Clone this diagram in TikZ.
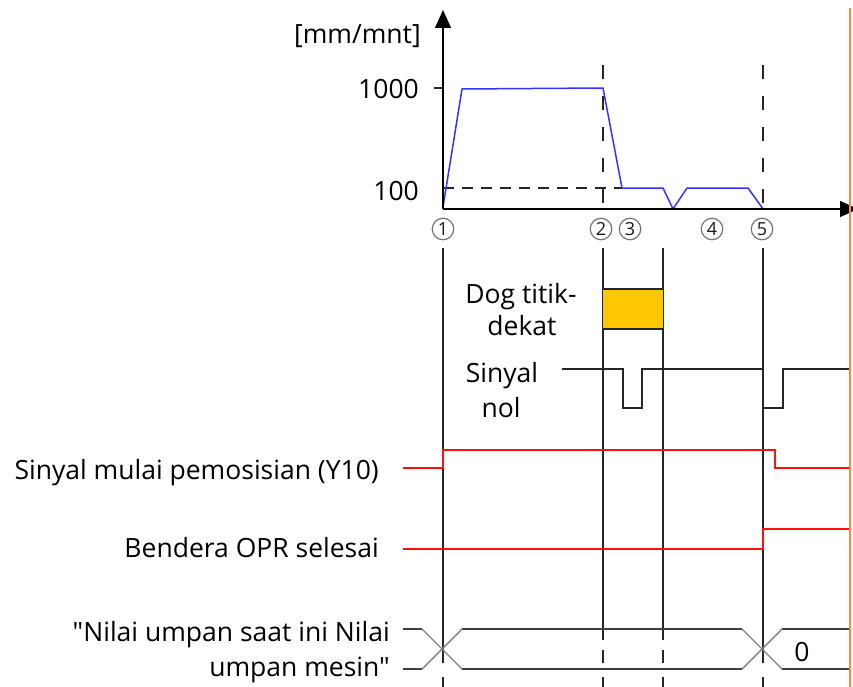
\documentclass[tikz,border=0pt]{standalone}
\usepackage{fontspec}
\setmainfont{Open Sans}[Ligatures=TeXOff]
\usetikzlibrary{arrows.meta}
\definecolor{sigblue}{HTML}{3333FF}
\definecolor{sigred}{HTML}{FF1010}
\definecolor{edgeorange}{HTML}{FF8A3D}
\definecolor{dogyellow}{HTML}{FFC800}
\definecolor{busgray}{HTML}{404040}
\definecolor{xgray}{HTML}{808080}
\tikzset{
  lbl/.style={inner sep=0pt, font=\fontsize{26.5}{30}\selectfont},
  circ/.style={circle, draw=black!55, line width=1.2pt, inner sep=0pt, minimum size=21.5pt, text=black!90, font=\fontsize{18}{19}\selectfont},
  blk/.style={line width=1.4pt, black!85},
  axisarrow/.style={line width=1.4pt, -{Triangle[length=18pt,width=16pt]}},
  vdash/.style={line width=1.4pt, black!85, dash pattern=on 14pt off 17pt},
  hdash/.style={line width=1.4pt, black!85, dash pattern=on 11pt off 8pt},
  speed/.style={line width=1.5pt, sigblue, line join=round},
  redsig/.style={line width=1.5pt, sigred},
  bus/.style={line width=1.4pt, busgray},
  busx/.style={line width=1.4pt, xgray},
}
\begin{document}
\begin{tikzpicture}[x=1pt,y=-1pt]
\useasboundingbox (0,0) rectangle (853,687);

% ---- speed chart ----
\coordinate (o) at (443,209);
\coordinate (ytop) at (443,10);
\coordinate (xend) at (858,209);
\draw[hdash] (443,188) -- (622,188);
\draw[vdash] (603,65) -- (603,209);
\draw[vdash] (763,65) -- (763,209);
\draw[blk] (434,88) -- (443,88);
\draw[speed] (443,207) -- (462,89) -- (603,88) -- (622,188) -- (663,188) -- (673,209) -- (687,188) -- (748,188) -- (763,209);
\draw[axisarrow] (o) -- (ytop);
\draw[axisarrow] (o) -- (xend);

\node[lbl, anchor=east] (unit) at (421,36) {[mm/mnt]};
\node[lbl, anchor=east] (v1000) at (419,89) {1000};
\node[lbl, anchor=east] (v100) at (419,191) {100};

\node[circ] (c1) at (443,229) {1};
\node[circ] (c2) at (601,229) {2};
\node[circ] (c3) at (630,229) {3};
\node[circ] (c4) at (712,229) {4};
\node[circ] (c5) at (762,229) {5};

% ---- vertical time lines ----
\draw[blk] (443,248) -- (443,663);
\draw[blk] (443,677) -- (443,687);
\draw[blk] (603,248) -- (603,640);
\draw[blk] (603,650) -- (603,663);
\draw[blk] (603,677) -- (603,687);
\draw[blk] (663,248) -- (663,640);
\draw[blk] (663,650) -- (663,663);
\draw[blk] (663,677) -- (663,687);
\draw[blk] (763,248) -- (763,663);
\draw[blk] (763,677) -- (763,687);

% ---- near-point dog ----
\fill[dogyellow] (603,289) rectangle (663,329);
\draw[blk] (603,289) -- (663,289);
\draw[blk] (603,329) -- (663,329);
\node[lbl, anchor=base] (dog1) at (521,303) {Dog titik-};
\node[lbl, anchor=base] (dog2) at (522,335) {dekat};

% ---- zero signal ----
\draw[blk, line join=miter] (562,369) -- (623,369) -- (623,408) -- (642,408) -- (642,369) -- (763,369) -- (763,408) -- (783,408) -- (783,369) -- (850,369);
\node[lbl, anchor=base] (nol1) at (502,382) {Sinyal};
\node[lbl, anchor=base] (nol2) at (501,417) {nol};

% ---- Y10 ----
\draw[redsig] (403,468) -- (443,468) -- (443,450) -- (775,450) -- (775,468) -- (850,468);
\node[lbl, anchor=base east] (y10) at (379,479) {Sinyal mulai pemosisian (Y10)};

% ---- OPR complete ----
\draw[redsig] (403,549) -- (763,549) -- (763,529) -- (850,529);
\node[lbl, anchor=base east] (opr) at (379,557) {Bendera OPR selesai};

% ---- feed value bus ----
\draw[bus] (403,629) -- (422,629);
\draw[bus] (403,669) -- (422,669);
\draw[busx] (422,629) -- (462,669);
\draw[busx] (422,669) -- (462,629);
\draw[bus] (462,629) -- (742,629);
\draw[bus] (462,669) -- (742,669);
\draw[busx] (742,629) -- (782,669);
\draw[busx] (742,669) -- (782,629);
\draw[bus] (782,629) -- (850,629);
\draw[bus] (782,669) -- (850,669);
\node[lbl, anchor=center] (zero) at (802,652) {0};
\node[lbl, anchor=base east] (feed1) at (390,641) {"Nilai umpan saat ini Nilai};
\node[lbl, anchor=base east] (feed2) at (390,676) {umpan mesin"};

% ---- right edge ----
\draw[edgeorange, line width=2.5pt] (850,8) -- (850,687);
\end{tikzpicture}
\end{document}
